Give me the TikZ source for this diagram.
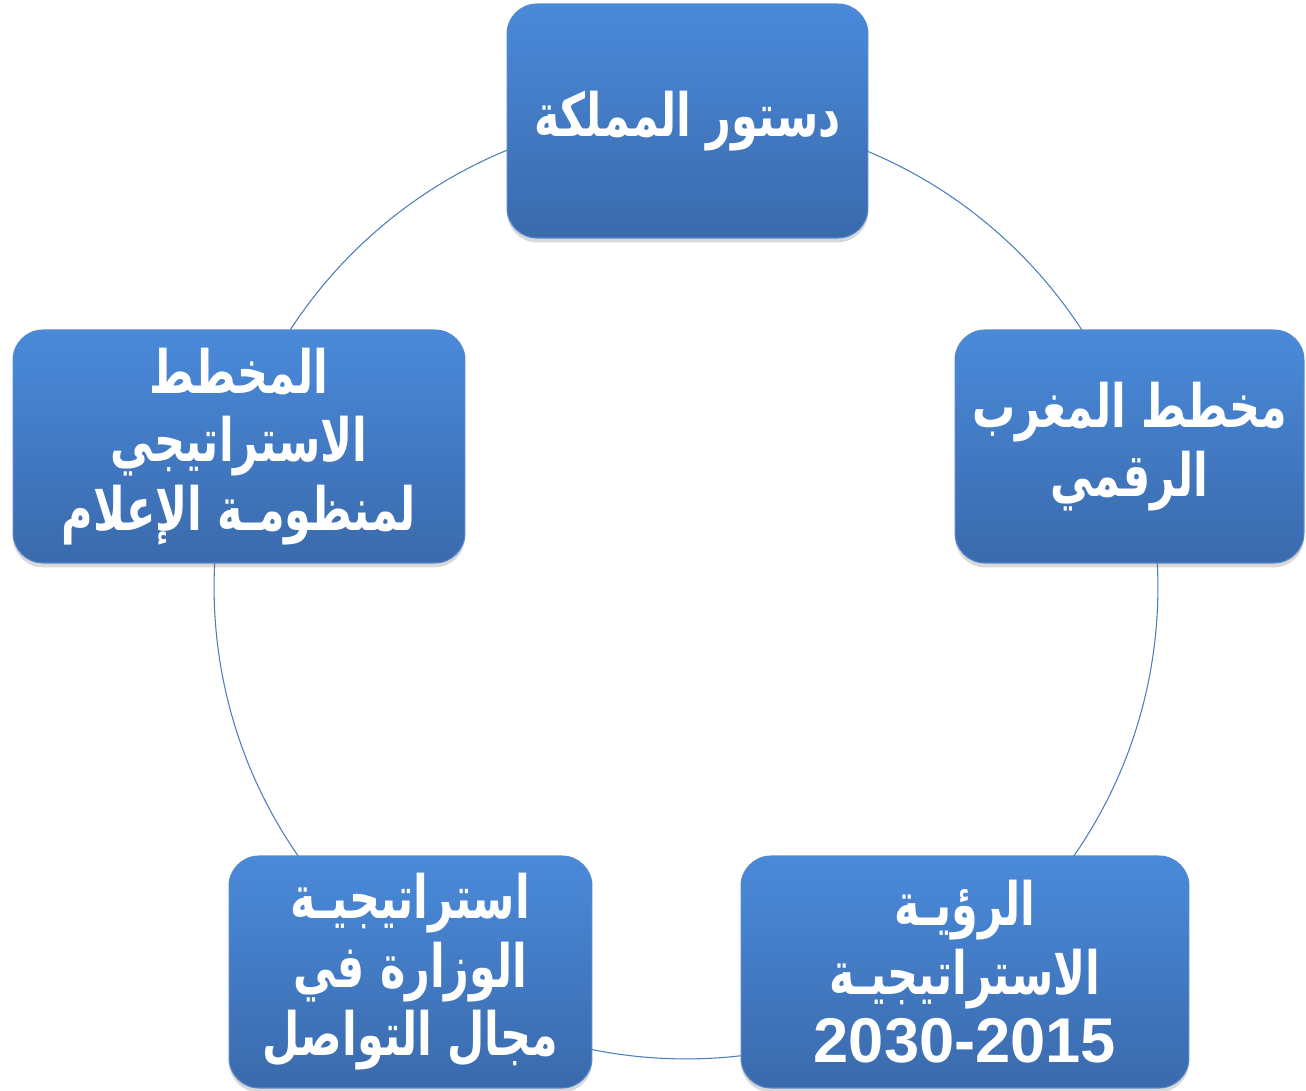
\documentclass[tikz,border=0pt]{standalone}
\usepackage{fontspec}
\usetikzlibrary{shadows}
\TeXXeTstate=1
\newfontfamily\arabicfont[Script=Arabic,FakeStretch=0.72]{DejaVu Sans}
\newfontfamily\numfont{Liberation Sans}
\newcommand\artxt[1]{{\arabicfont\beginR #1\endR}}
\definecolor{boxtop}{RGB}{74,138,218}
\definecolor{boxbot}{RGB}{58,106,172}
\definecolor{boxedge}{RGB}{86,136,204}
\definecolor{ringcol}{RGB}{74,126,187}
\tikzset{
  cyclebox/.style={rectangle, rounded corners=0.6cm, draw=boxedge, line width=0.6pt,
    top color=boxtop, bottom color=boxbot,
    drop shadow={shadow xshift=0pt, shadow yshift=-2.5pt, opacity=0.25, fill=black!60},
    text=white, align=center, font=\fontsize{34}{39}\selectfont\bfseries, inner sep=0pt},
  ring/.style={draw=ringcol, line width=0.6pt}
}
\begin{document}
\begin{tikzpicture}[x=0.02cm, y=-0.02cm]
\useasboundingbox (0,0) rectangle (1306,1091);
\coordinate (ctr) at (686,587);
\draw[ring] (ctr) circle [radius=9.44cm];
\node[cyclebox, minimum width=7.22cm, minimum height=4.68cm] (dostour) at (687.5,121) {\artxt{دستور المملكة}};
\node[cyclebox, minimum width=6.98cm, minimum height=4.66cm] (maghreb) at (1129.5,446.5) {\artxt{مخطط المغرب}\\\artxt{الرقمي}};
\node[cyclebox, minimum width=8.96cm, minimum height=4.64cm] (roya) at (965,972) {\artxt{الرؤيـة}\\\artxt{الاستراتيجيـة}\\{\numfont\fontsize{36}{39}\selectfont 2030-2015}};
\node[cyclebox, minimum width=7.26cm, minimum height=4.64cm] (wizara) at (410.5,972) {\artxt{استراتيجيـة}\\\artxt{الوزارة في}\\\artxt{مجال التواصل}};
\node[cyclebox, minimum width=9.04cm, minimum height=4.66cm] (mokhatat) at (239,446.5) {\artxt{المخطط}\\\artxt{الاستراتيجي}\\\artxt{لمنظومـة الإعلام}};
\end{tikzpicture}
\end{document}
